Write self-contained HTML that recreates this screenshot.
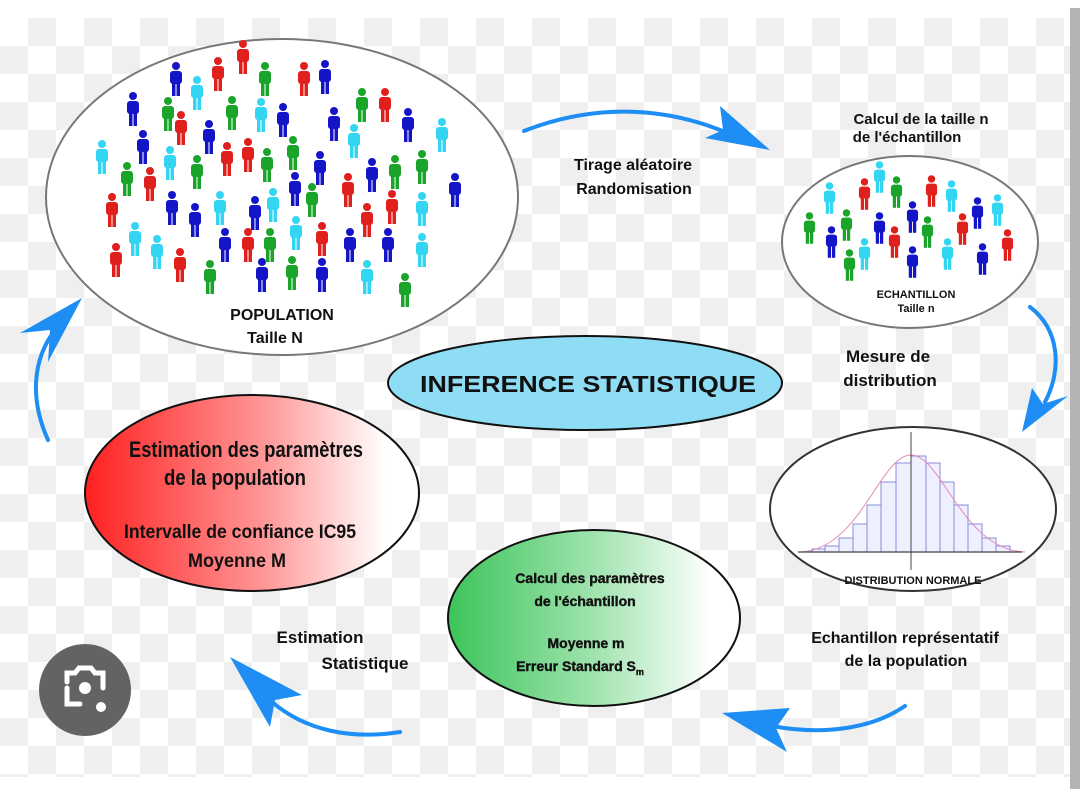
<!DOCTYPE html>
<html><head><meta charset="utf-8"><style>
html,body{margin:0;padding:0;background:#fff;}
svg{display:block;}
text{font-family:"Liberation Sans",sans-serif;font-weight:bold;fill:#111;}
</style></head><body>
<svg width="1080" height="789" viewBox="0 0 1080 789" xmlns="http://www.w3.org/2000/svg">
<defs>
<pattern id="chk" x="0" y="18" width="56" height="56" patternUnits="userSpaceOnUse">
<rect width="56" height="56" fill="#ffffff"/>
<rect x="28" y="0" width="28" height="28" fill="#efefef"/>
<rect x="0" y="28" width="28" height="28" fill="#efefef"/>
</pattern>
<linearGradient id="red" x1="0" x2="1" y1="0" y2="0">
<stop offset="0" stop-color="#ff2020"/><stop offset="0.55" stop-color="#ff9a9a"/><stop offset="0.9" stop-color="#ffffff"/>
</linearGradient>
<linearGradient id="grn" x1="0" x2="1" y1="0" y2="0">
<stop offset="0" stop-color="#3cc45a"/><stop offset="0.5" stop-color="#9fe3ae"/><stop offset="0.9" stop-color="#ffffff"/>
</linearGradient>
<symbol id="p" viewBox="0 0 14 34" overflow="visible">
<circle cx="7" cy="4" r="4"/>
<rect x="1" y="9" width="12" height="13" rx="3"/>
<rect x="3" y="20" width="3.5" height="14"/>
<rect x="7.5" y="20" width="3.5" height="14"/>
</symbol>
</defs>
<rect x="0" y="18" width="1070" height="759" fill="url(#chk)"/>
<rect x="1070" y="8" width="10" height="781" fill="#b3b3b3"/>
<rect x="0" y="777" width="1070" height="12" fill="#fff"/>

<!-- population -->
<ellipse cx="282" cy="197" rx="236" ry="158" fill="#fff" stroke="#777" stroke-width="2"/>
<g id="pop">
<use href="#p" x="236" y="40" width="14" height="34" fill="#e0201c"/>
<use href="#p" x="211" y="57" width="14" height="34" fill="#e0201c"/>
<use href="#p" x="169" y="62" width="14" height="34" fill="#1515c8"/>
<use href="#p" x="190" y="76" width="14" height="34" fill="#33d6f2"/>
<use href="#p" x="258" y="62" width="14" height="34" fill="#1aa52a"/>
<use href="#p" x="297" y="62" width="14" height="34" fill="#e0201c"/>
<use href="#p" x="318" y="60" width="14" height="34" fill="#1515c8"/>
<use href="#p" x="126" y="92" width="14" height="34" fill="#1515c8"/>
<use href="#p" x="161" y="97" width="14" height="34" fill="#1aa52a"/>
<use href="#p" x="174" y="111" width="14" height="34" fill="#e0201c"/>
<use href="#p" x="225" y="96" width="14" height="34" fill="#1aa52a"/>
<use href="#p" x="202" y="120" width="14" height="34" fill="#1515c8"/>
<use href="#p" x="254" y="98" width="14" height="34" fill="#33d6f2"/>
<use href="#p" x="276" y="103" width="14" height="34" fill="#1515c8"/>
<use href="#p" x="327" y="107" width="14" height="34" fill="#1515c8"/>
<use href="#p" x="355" y="88" width="14" height="34" fill="#1aa52a"/>
<use href="#p" x="378" y="88" width="14" height="34" fill="#e0201c"/>
<use href="#p" x="401" y="108" width="14" height="34" fill="#1515c8"/>
<use href="#p" x="435" y="118" width="14" height="34" fill="#33d6f2"/>
<use href="#p" x="95" y="140" width="14" height="34" fill="#33d6f2"/>
<use href="#p" x="136" y="130" width="14" height="34" fill="#1515c8"/>
<use href="#p" x="120" y="162" width="14" height="34" fill="#1aa52a"/>
<use href="#p" x="143" y="167" width="14" height="34" fill="#e0201c"/>
<use href="#p" x="163" y="146" width="14" height="34" fill="#33d6f2"/>
<use href="#p" x="190" y="155" width="14" height="34" fill="#1aa52a"/>
<use href="#p" x="220" y="142" width="14" height="34" fill="#e0201c"/>
<use href="#p" x="241" y="138" width="14" height="34" fill="#e0201c"/>
<use href="#p" x="260" y="148" width="14" height="34" fill="#1aa52a"/>
<use href="#p" x="286" y="136" width="14" height="34" fill="#1aa52a"/>
<use href="#p" x="313" y="151" width="14" height="34" fill="#1515c8"/>
<use href="#p" x="347" y="124" width="14" height="34" fill="#33d6f2"/>
<use href="#p" x="365" y="158" width="14" height="34" fill="#1515c8"/>
<use href="#p" x="388" y="155" width="14" height="34" fill="#1aa52a"/>
<use href="#p" x="415" y="150" width="14" height="34" fill="#1aa52a"/>
<use href="#p" x="448" y="173" width="14" height="34" fill="#1515c8"/>
<use href="#p" x="105" y="193" width="14" height="34" fill="#e0201c"/>
<use href="#p" x="128" y="222" width="14" height="34" fill="#33d6f2"/>
<use href="#p" x="165" y="191" width="14" height="34" fill="#1515c8"/>
<use href="#p" x="188" y="203" width="14" height="34" fill="#1515c8"/>
<use href="#p" x="213" y="191" width="14" height="34" fill="#33d6f2"/>
<use href="#p" x="248" y="196" width="14" height="34" fill="#1515c8"/>
<use href="#p" x="266" y="188" width="14" height="34" fill="#33d6f2"/>
<use href="#p" x="288" y="172" width="14" height="34" fill="#1515c8"/>
<use href="#p" x="305" y="183" width="14" height="34" fill="#1aa52a"/>
<use href="#p" x="341" y="173" width="14" height="34" fill="#e0201c"/>
<use href="#p" x="360" y="203" width="14" height="34" fill="#e0201c"/>
<use href="#p" x="385" y="190" width="14" height="34" fill="#e0201c"/>
<use href="#p" x="415" y="192" width="14" height="34" fill="#33d6f2"/>
<use href="#p" x="109" y="243" width="14" height="34" fill="#e0201c"/>
<use href="#p" x="173" y="248" width="14" height="34" fill="#e0201c"/>
<use href="#p" x="203" y="260" width="14" height="34" fill="#1aa52a"/>
<use href="#p" x="218" y="228" width="14" height="34" fill="#1515c8"/>
<use href="#p" x="241" y="228" width="14" height="34" fill="#e0201c"/>
<use href="#p" x="263" y="228" width="14" height="34" fill="#1aa52a"/>
<use href="#p" x="289" y="216" width="14" height="34" fill="#33d6f2"/>
<use href="#p" x="315" y="222" width="14" height="34" fill="#e0201c"/>
<use href="#p" x="343" y="228" width="14" height="34" fill="#1515c8"/>
<use href="#p" x="381" y="228" width="14" height="34" fill="#1515c8"/>
<use href="#p" x="415" y="233" width="14" height="34" fill="#33d6f2"/>
<use href="#p" x="255" y="258" width="14" height="34" fill="#1515c8"/>
<use href="#p" x="285" y="256" width="14" height="34" fill="#1aa52a"/>
<use href="#p" x="315" y="258" width="14" height="34" fill="#1515c8"/>
<use href="#p" x="360" y="260" width="14" height="34" fill="#33d6f2"/>
<use href="#p" x="398" y="273" width="14" height="34" fill="#1aa52a"/>
<use href="#p" x="150" y="235" width="14" height="34" fill="#33d6f2"/>
</g>
<text x="282" y="320" font-size="16" text-anchor="middle">POPULATION</text>
<text x="275" y="343" font-size="16" text-anchor="middle">Taille N</text>

<!-- sample -->
<text x="921" y="124" font-size="15" text-anchor="middle">Calcul de la taille n</text>
<text x="907" y="142" font-size="15" text-anchor="middle">de l'échantillon</text>
<ellipse cx="910" cy="242" rx="128" ry="86" fill="#fff" stroke="#777" stroke-width="2"/>
<use href="#p" x="873" y="161" width="13" height="32" fill="#33d6f2"/>
<use href="#p" x="823" y="182" width="13" height="32" fill="#33d6f2"/>
<use href="#p" x="858" y="178" width="13" height="32" fill="#e0201c"/>
<use href="#p" x="890" y="176" width="13" height="32" fill="#1aa52a"/>
<use href="#p" x="925" y="175" width="13" height="32" fill="#e0201c"/>
<use href="#p" x="945" y="180" width="13" height="32" fill="#33d6f2"/>
<use href="#p" x="971" y="197" width="13" height="32" fill="#1515c8"/>
<use href="#p" x="991" y="194" width="13" height="32" fill="#33d6f2"/>
<use href="#p" x="803" y="212" width="13" height="32" fill="#1aa52a"/>
<use href="#p" x="840" y="209" width="13" height="32" fill="#1aa52a"/>
<use href="#p" x="825" y="226" width="13" height="32" fill="#1515c8"/>
<use href="#p" x="873" y="212" width="13" height="32" fill="#1515c8"/>
<use href="#p" x="888" y="226" width="13" height="32" fill="#e0201c"/>
<use href="#p" x="906" y="201" width="13" height="32" fill="#1515c8"/>
<use href="#p" x="921" y="216" width="13" height="32" fill="#1aa52a"/>
<use href="#p" x="956" y="213" width="13" height="32" fill="#e0201c"/>
<use href="#p" x="843" y="249" width="13" height="32" fill="#1aa52a"/>
<use href="#p" x="858" y="238" width="13" height="32" fill="#33d6f2"/>
<use href="#p" x="906" y="246" width="13" height="32" fill="#1515c8"/>
<use href="#p" x="941" y="238" width="13" height="32" fill="#33d6f2"/>
<use href="#p" x="976" y="243" width="13" height="32" fill="#1515c8"/>
<use href="#p" x="1001" y="229" width="13" height="32" fill="#e0201c"/>
<text x="916" y="298" font-size="11" text-anchor="middle">ECHANTILLON</text>
<text x="916" y="312" font-size="11" text-anchor="middle">Taille n</text>

<text x="633" y="170" font-size="16" text-anchor="middle">Tirage aléatoire</text>
<text x="634" y="194" font-size="16" text-anchor="middle">Randomisation</text>

<text x="888" y="362" font-size="17" text-anchor="middle">Mesure de</text>
<text x="890" y="386" font-size="17" text-anchor="middle">distribution</text>

<!-- inference -->
<ellipse cx="585" cy="383" rx="197" ry="47" fill="#8fdcf5" stroke="#111" stroke-width="2"/>
<text x="588" y="392" font-size="23" text-anchor="middle" textLength="336" lengthAdjust="spacingAndGlyphs">INFERENCE STATISTIQUE</text>

<!-- red -->
<ellipse cx="252" cy="493" rx="167" ry="98" fill="url(#red)" stroke="#111" stroke-width="2"/>
<text x="246" y="457" font-size="22" text-anchor="middle" textLength="234" lengthAdjust="spacingAndGlyphs" font-weight="normal">Estimation des paramètres</text>
<text x="235" y="485" font-size="22" text-anchor="middle" textLength="142" lengthAdjust="spacingAndGlyphs" font-weight="normal">de la population</text>
<text x="240" y="538" font-size="19" text-anchor="middle" textLength="232" lengthAdjust="spacingAndGlyphs" font-weight="normal">Intervalle de confiance IC95</text>
<text x="237" y="567" font-size="19" text-anchor="middle" textLength="98" lengthAdjust="spacingAndGlyphs" font-weight="normal">Moyenne M</text>

<!-- distribution -->
<ellipse cx="913" cy="509" rx="143" ry="82" fill="#fff" stroke="#333" stroke-width="2"/>
<g fill="#eef0ff" stroke="#8b8bdc" stroke-width="1">
<rect x="812" y="549" width="13" height="3"/><rect x="825" y="546" width="14" height="6"/>
<rect x="839" y="538" width="14" height="14"/><rect x="853" y="524" width="14" height="28"/>
<rect x="867" y="505" width="14" height="47"/><rect x="881" y="482" width="15" height="70"/>
<rect x="896" y="463" width="15" height="89"/><rect x="911" y="456" width="15" height="96"/>
<rect x="926" y="463" width="14" height="89"/><rect x="940" y="482" width="14" height="70"/>
<rect x="954" y="505" width="14" height="47"/><rect x="968" y="524" width="14" height="28"/>
<rect x="982" y="538" width="14" height="14"/><rect x="996" y="546" width="14" height="6"/>
</g>
<path d="M800 552 C860 550 880 455 911 455 C942 455 962 550 1025 552" fill="none" stroke="#e08ab8" stroke-width="1"/>
<line x1="798" y1="552" x2="1022" y2="552" stroke="#444" stroke-width="1.2"/>
<line x1="911" y1="432" x2="911" y2="570" stroke="#444" stroke-width="1"/>
<text x="913" y="584" font-size="11" text-anchor="middle">DISTRIBUTION NORMALE</text>

<text x="905" y="643" font-size="16" text-anchor="middle">Echantillon représentatif</text>
<text x="906" y="666" font-size="16" text-anchor="middle">de la population</text>

<!-- green -->
<ellipse cx="594" cy="618" rx="146" ry="88" fill="url(#grn)" stroke="#111" stroke-width="2"/>
<text x="590" y="583" font-size="14" text-anchor="middle" font-weight="normal" stroke="#111" stroke-width="0.4">Calcul des paramètres</text>
<text x="585" y="606" font-size="14" text-anchor="middle" font-weight="normal" stroke="#111" stroke-width="0.4">de l'échantillon</text>
<text x="586" y="648" font-size="14" text-anchor="middle" font-weight="normal" stroke="#111" stroke-width="0.4">Moyenne m</text>
<text x="580" y="671" font-size="14" text-anchor="middle" font-weight="normal" stroke="#111" stroke-width="0.4">Erreur Standard S<tspan font-size="9" dy="4">m</tspan></text>

<text x="320" y="643" font-size="17" text-anchor="middle">Estimation</text>
<text x="365" y="669" font-size="17" text-anchor="middle">Statistique</text>

<!-- arrows -->
<g fill="none" stroke="#1e8ef5" stroke-width="4" stroke-linecap="round">
<path d="M524 131 C590 105 660 105 725 132"/>
<path d="M1030 307 C1060 330 1062 370 1045 402"/>
<path d="M905 706 C870 730 820 735 772 726"/>
<path d="M400 732 C350 740 305 730 272 702"/>
<path d="M48 440 C30 400 32 360 55 330"/>
</g>
<g fill="#1e8ef5">
<polygon points="770,150 720,106 723,130 705,138"/>
<polygon points="1022,432 1032,388 1043,404 1068,396"/>
<polygon points="722,713 790,708 776,728 787,752"/>
<polygon points="230,657 302,695 275,700 270,727"/>
<polygon points="82,298 20,333 50,330 48,362"/>
</g>

<!-- lens icon -->
<circle cx="85" cy="690" r="46" fill="#636363"/>
<g fill="none" stroke="#fff" stroke-width="5" stroke-linecap="round">
<path d="M67 688 V704 H80"/>
<path d="M67 682 V673 H75 L79 668 H91 L95 673 H103 V688"/>
</g>
<circle cx="85" cy="688" r="6" fill="#fff"/>
<circle cx="101" cy="707" r="5" fill="#fff"/>
</svg>
</body></html>
